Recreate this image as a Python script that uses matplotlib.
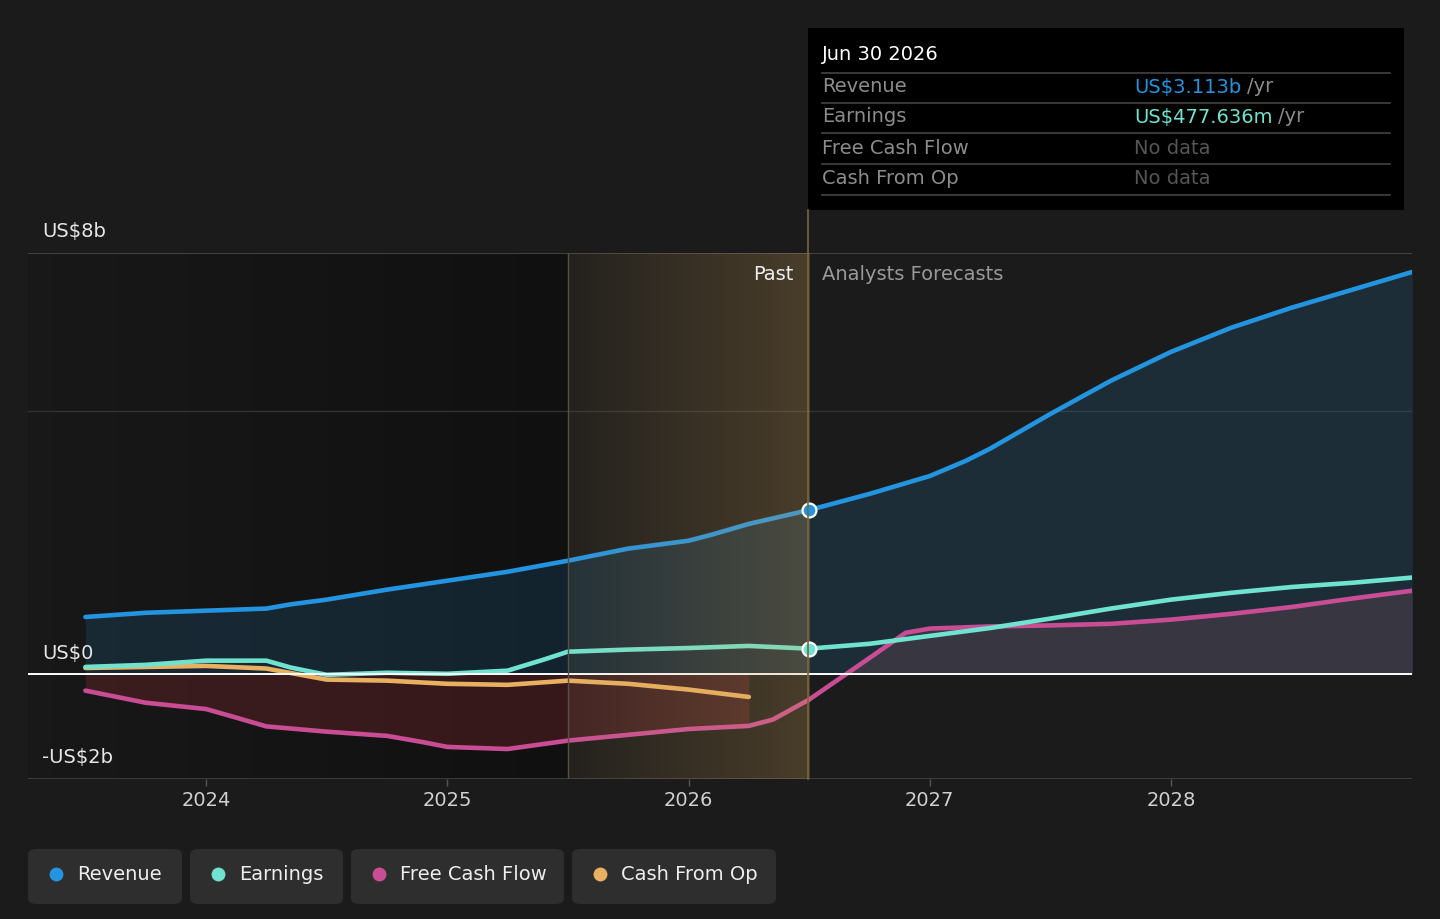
import numpy as np
import matplotlib
matplotlib.use("Agg")
from matplotlib import pyplot as plt
from matplotlib.patches import FancyBboxPatch, Rectangle

# --- data (US$ billions) ---
rev_t = [2023.5, 2023.75, 2024.0, 2024.25, 2024.35, 2024.5, 2024.75, 2025.0, 2025.25, 2025.5, 2025.75,
         2026.0, 2026.1, 2026.25, 2026.5, 2026.75, 2027.0, 2027.15, 2027.25, 2027.5, 2027.75, 2028.0, 2028.25,
         2028.5, 2028.75, 2029.0]
rev_v = [1.08, 1.16, 1.2, 1.24, 1.32, 1.41, 1.6, 1.77, 1.94, 2.15, 2.38,
         2.53, 2.65, 2.85, 3.113, 3.42, 3.76, 4.05, 4.28, 4.94, 5.57, 6.12, 6.58,
         6.96, 7.3, 7.64]

earn_t = [2023.5, 2023.75, 2024.0, 2024.25, 2024.35, 2024.5, 2024.75, 2025.0, 2025.25, 2025.4,
          2025.5, 2025.75, 2026.0, 2026.25, 2026.5, 2026.75, 2027.0, 2027.25, 2027.5, 2027.75,
          2028.0, 2028.25, 2028.5, 2028.75, 2029.0]
earn_v = [0.13, 0.17, 0.25, 0.25, 0.12, -0.02, 0.02, 0.0, 0.06, 0.27,
          0.42, 0.46, 0.49, 0.53, 0.478, 0.57, 0.72, 0.87, 1.05, 1.24,
          1.41, 1.54, 1.65, 1.73, 1.83]

fcf_t = [2023.5, 2023.75, 2024.0, 2024.1, 2024.25, 2024.5, 2024.75, 2024.9, 2025.0, 2025.25, 2025.5,
         2025.75, 2026.0, 2026.25, 2026.35, 2026.5, 2026.75, 2026.9, 2027.0, 2027.25, 2027.5,
         2027.75, 2028.0, 2028.25, 2028.5, 2028.75, 2029.0]
fcf_v = [-0.32, -0.55, -0.67, -0.8, -1.0, -1.1, -1.18, -1.3, -1.39, -1.43, -1.27,
         -1.16, -1.05, -0.99, -0.87, -0.49, 0.3, 0.78, 0.86, 0.9, 0.92,
         0.95, 1.03, 1.14, 1.27, 1.43, 1.58]

cfo_t = [2023.5, 2023.75, 2024.0, 2024.25, 2024.5, 2024.75, 2025.0, 2025.25, 2025.5, 2025.75,
         2026.0, 2026.25]
cfo_v = [0.11, 0.13, 0.15, 0.1, -0.11, -0.13, -0.19, -0.21, -0.13, -0.19,
         -0.3, -0.44]

names = ["Revenue", "Earnings", "Free Cash Flow", "Cash From Op"]
colors = ["#2394df", "#6fe3cf", "#c94d94", "#e8b060"]

past_start, past_end = 2025.5, 2026.5
bg = "#1b1b1b"
FS = 14

W, H = 1440, 919
fig = plt.figure(figsize=(W / 100, H / 100), dpi=100, facecolor=bg)


def fx(x):
    return x / W


def fy(y):
    return 1 - y / H


ax = fig.add_axes([fx(28), fy(779), fx(1412) - fx(28), fy(253) - fy(779)])
ax.set_facecolor(bg)
ax.set_xlim(2023.262, 2028.999)
ax.set_ylim(-2, 8)

# darker gradient on the older past
grad = np.linspace(0, 1, 256).reshape(1, -1)
dark = np.zeros((1, 256, 4))
dark[..., 3] = 0.1 + 0.3 * grad
ax.imshow(dark, extent=[2023.262, past_start, -2, 8], aspect="auto", zorder=0)

# grid lines
ax.axhline(8, color="#4a4a4a", lw=1.2, zorder=1)
ax.axhline(5, color="#333333", lw=1.0, zorder=1)
ax.axhline(-2, color="#444444", lw=1.2, zorder=1)

# fills
ax.fill_between(rev_t, rev_v, 0, color="#2394df", alpha=0.15, lw=0, zorder=2)
fcf_arr = np.array(fcf_v)
fcf_tarr = np.array(fcf_t)
neg = fcf_tarr <= 2026.25
ax.fill_between(fcf_tarr[neg], fcf_arr[neg], 0, color="#b0303a", alpha=0.24, lw=0, zorder=2)
fut = fcf_tarr >= 2026.5
ax.fill_between(fcf_tarr[fut], fcf_arr[fut], 0, where=fcf_arr[fut] > 0, interpolate=True,
                color="#554048", alpha=0.5, lw=0, zorder=2)

# lines
ax.plot(rev_t, rev_v, color=colors[0], lw=3.3, zorder=4, solid_capstyle="round")
ax.plot(fcf_t, fcf_v, color=colors[2], lw=3.3, zorder=4, solid_capstyle="round")
ax.plot(cfo_t, cfo_v, color=colors[3], lw=3.3, zorder=4, solid_capstyle="round")
ax.plot(earn_t, earn_v, color=colors[1], lw=3.3, zorder=5, solid_capstyle="round")
ax.axhline(0, color="white", lw=1.4, zorder=6)

# past highlight (over the lines)
hl = np.zeros((1, 256, 4))
hl[..., 0] = 0.85
hl[..., 1] = 0.65
hl[..., 2] = 0.35
hl[..., 3] = 0.05 + 0.2 * grad
ax.imshow(hl, extent=[past_start, past_end, -2, 8], aspect="auto", zorder=7)
ax.axvline(past_start, color="#5a5040", lw=1.0, zorder=7)

# markers at the hover date
ax.plot([past_end], [rev_v[rev_t.index(past_end)]], "o", ms=10, mfc=colors[0],
        mec="white", mew=1.6, zorder=9)
ax.plot([past_end], [earn_v[earn_t.index(past_end)]], "o", ms=10, mfc=colors[1],
        mec="white", mew=1.6, zorder=9)

# axes styling
for s in ax.spines.values():
    s.set_visible(False)
ax.set_yticks([])
ax.set_xticks([2024, 2025, 2026, 2027, 2028])
ax.set_xticklabels(["2024", "2025", "2026", "2027", "2028"])
ax.tick_params(axis="x", colors="#555555", labelcolor="#d0d0d0", labelsize=FS,
               length=5, width=1, pad=4)

# hover line, goes up to tooltip
fig.add_artist(plt.Line2D([fx(808), fx(808)], [fy(779), fy(210)], color="#7a6640", lw=1.2))

# y labels
for txt, y in [("US$8b", 232), ("US$0", 653), ("-US$2b", 758)]:
    fig.text(fx(42), fy(y), txt, color="#e6e6e6", fontsize=FS, va="center", ha="left")

fig.text(fx(793), fy(274), "Past", color="#eeeeee", fontsize=FS, va="center", ha="right")
fig.text(fx(822), fy(274), "Analysts Forecasts", color="#999999", fontsize=FS,
         va="center", ha="left")

# tooltip
fig.add_artist(Rectangle((fx(808), fy(210)), fx(1404) - fx(808), fy(28) - fy(210),
                         transform=fig.transFigure, facecolor="black", edgecolor="none"))
fig.text(fx(822), fy(55), "Jun 30 2026", color="white", fontsize=FS, va="center")
for y in [73, 103, 133, 164, 195]:
    fig.add_artist(plt.Line2D([fx(822), fx(1390)], [fy(y), fy(y)], color="#444444", lw=1.2))
row_y = [87, 117, 148, 178]
values = ["US$3.113b", "US$477.636m", "No data", "No data"]
for i in range(4):
    fig.text(fx(822), fy(row_y[i]), names[i], color="#8c8c8c", fontsize=FS, va="center")
    if values[i] == "No data":
        fig.text(fx(1134), fy(row_y[i]), values[i], color="#555555", fontsize=FS, va="center")
    else:
        t = fig.text(fx(1134), fy(row_y[i]), values[i], color=colors[i], fontsize=FS, va="center")
        fig.canvas.draw()
        bb = t.get_window_extent()
        fig.text(bb.x1 / W + fx(6), fy(row_y[i]), "/yr", color="#8c8c8c", fontsize=FS,
                 va="center")

# legend boxes
boxes = [(28, 182), (190, 343), (351, 564), (572, 776)]
for i, (x0, x1) in enumerate(boxes):
    fig.add_artist(FancyBboxPatch((fx(x0), fy(904)), fx(x1) - fx(x0), fy(849) - fy(904),
                                  boxstyle="round,pad=0,rounding_size=0.006",
                                  transform=fig.transFigure, facecolor="#2e2e2e",
                                  edgecolor="none"))
    fig.add_artist(plt.Line2D([fx(x0 + 28)], [fy(874)], marker="o", ms=10,
                              color=colors[i], mec="none"))
    fig.text(fx(x0 + 49), fy(874), names[i], color="#eeeeee", fontsize=FS, va="center")

fig.savefig("out.png", dpi=100, facecolor=bg)
